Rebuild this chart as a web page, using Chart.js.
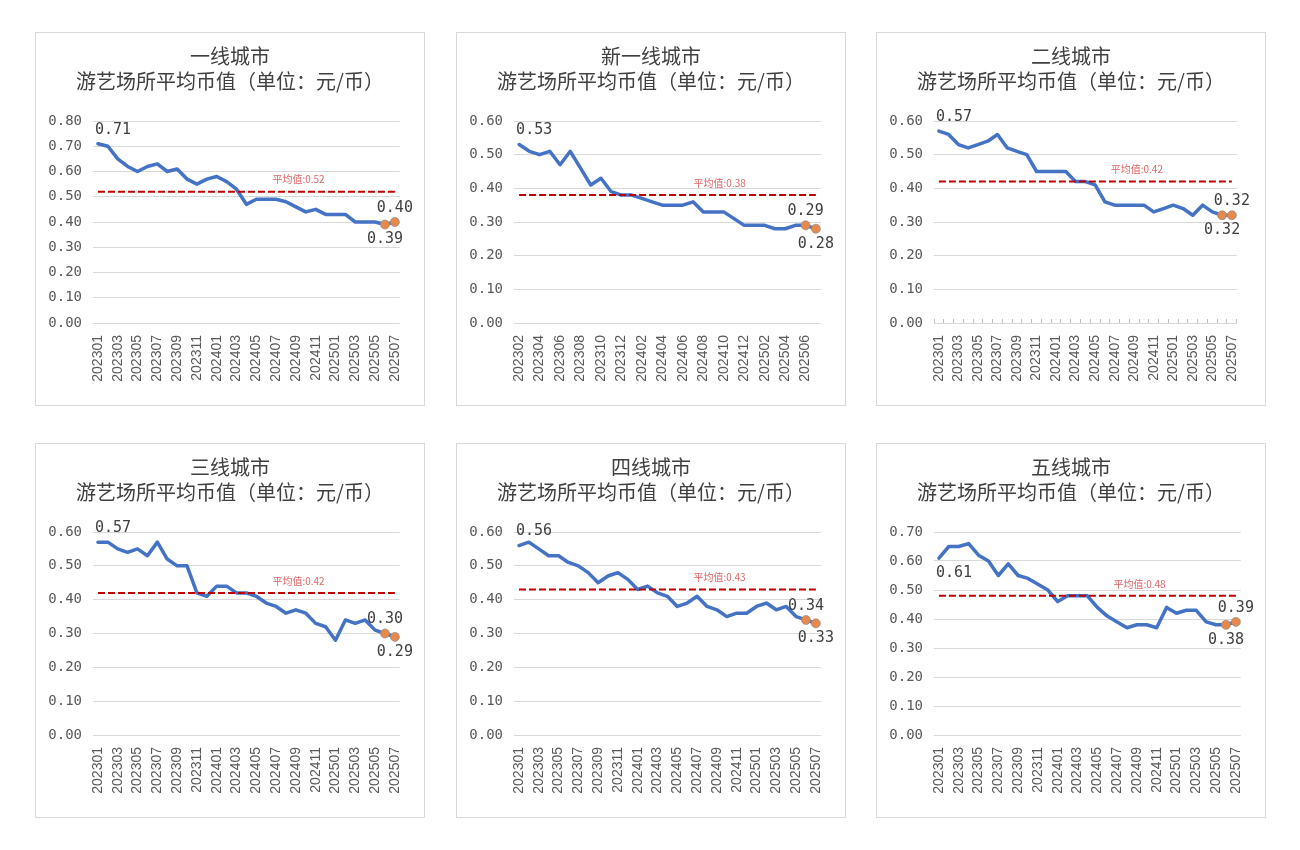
<!DOCTYPE html>
<html lang="zh-CN">
<head>
<meta charset="utf-8">
<title>游艺场所平均币值</title>
<script src="https://cdn.jsdelivr.net/npm/chart.js@4.4.1/dist/chart.umd.min.js"></script>
<style>
  html, body { margin: 0; padding: 0; background: #fff; }
  body { width: 1300px; height: 850px; position: relative; overflow: hidden; }
  .panel { position: absolute; box-sizing: border-box; border: 1px solid #d9d9d9; background: #fff; }
  .panel canvas { display: block; }
</style>
</head>
<body>
<div class="panel" style="left:35px;top:32px;width:390px;height:374px"><canvas id="chart0"></canvas></div>
<div class="panel" style="left:456px;top:32px;width:390px;height:374px"><canvas id="chart1"></canvas></div>
<div class="panel" style="left:876px;top:32px;width:390px;height:374px"><canvas id="chart2"></canvas></div>
<div class="panel" style="left:35px;top:443px;width:390px;height:375px"><canvas id="chart3"></canvas></div>
<div class="panel" style="left:456px;top:443px;width:390px;height:375px"><canvas id="chart4"></canvas></div>
<div class="panel" style="left:876px;top:443px;width:390px;height:375px"><canvas id="chart5"></canvas></div>

<script>
'use strict';

// 월 라벨 (202301 ~ 202507)
const months = [
  '202301', '202302', '202303', '202304', '202305', '202306', '202307', '202308',
  '202309', '202310', '202311', '202312', '202401', '202402', '202403', '202404',
  '202405', '202406', '202407', '202408', '202409', '202410', '202411', '202412',
  '202501', '202502', '202503', '202504', '202505', '202506', '202507'
];
// 新一线 only starts at 202302
const monthsFrom202302 = months.slice(1);

const cityNames = ['一线城市', '新一线城市', '二线城市', '三线城市', '四线城市', '五线城市'];
const subTitle = '游艺场所平均币值（单位：元/币）';

const tier1 = [0.71, 0.70, 0.65, 0.62, 0.60, 0.62, 0.63, 0.60, 0.61, 0.57,
  0.55, 0.57, 0.58, 0.56, 0.53, 0.47, 0.49, 0.49, 0.49, 0.48,
  0.46, 0.44, 0.45, 0.43, 0.43, 0.43, 0.40, 0.40, 0.40, 0.39, 0.40];
const newTier1 = [0.53, 0.51, 0.50, 0.51, 0.47, 0.51, 0.46, 0.41, 0.43, 0.39,
  0.38, 0.38, 0.37, 0.36, 0.35, 0.35, 0.35, 0.36, 0.33, 0.33,
  0.33, 0.31, 0.29, 0.29, 0.29, 0.28, 0.28, 0.29, 0.29, 0.28];
const tier2 = [0.57, 0.56, 0.53, 0.52, 0.53, 0.54, 0.56, 0.52, 0.51, 0.50,
  0.45, 0.45, 0.45, 0.45, 0.42, 0.42, 0.41, 0.36, 0.35, 0.35,
  0.35, 0.35, 0.33, 0.34, 0.35, 0.34, 0.32, 0.35, 0.33, 0.32, 0.32];
const tier3 = [0.57, 0.57, 0.55, 0.54, 0.55, 0.53, 0.57, 0.52, 0.50, 0.50,
  0.42, 0.41, 0.44, 0.44, 0.42, 0.42, 0.41, 0.39, 0.38, 0.36,
  0.37, 0.36, 0.33, 0.32, 0.28, 0.34, 0.33, 0.34, 0.31, 0.30, 0.29];
const tier4 = [0.56, 0.57, 0.55, 0.53, 0.53, 0.51, 0.50, 0.48, 0.45, 0.47,
  0.48, 0.46, 0.43, 0.44, 0.42, 0.41, 0.38, 0.39, 0.41, 0.38,
  0.37, 0.35, 0.36, 0.36, 0.38, 0.39, 0.37, 0.38, 0.35, 0.34, 0.33];
const tier5 = [0.61, 0.65, 0.65, 0.66, 0.62, 0.60, 0.55, 0.59, 0.55, 0.54,
  0.52, 0.50, 0.46, 0.48, 0.48, 0.48, 0.44, 0.41, 0.39, 0.37,
  0.38, 0.38, 0.37, 0.44, 0.42, 0.43, 0.43, 0.39, 0.38, 0.38, 0.39];

// 평균값 (차트에 표기된 값)
const averages = [0.52, 0.38, 0.42, 0.42, 0.43, 0.48];
// y축 최대값
const yMaxes = [0.8, 0.6, 0.6, 0.6, 0.6, 0.7];

const TEXT = '#404040';
const AXIS_TEXT = '#595959';
const GRID = '#d9d9d9';

// average line + data labels
const markPlugin = {
  id: 'markPlugin',
  afterDatasetsDraw(chart, args, opts) {
    const ctx = chart.ctx;
    const area = chart.chartArea;
    const xs = chart.scales.x;
    const ys = chart.scales.y;
    const pts = chart.getDatasetMeta(0).data;
    const vals = chart.data.datasets[0].data;
    const n = vals.length;

    const yAvg = ys.getPixelForValue(opts.average);
    ctx.save();
    ctx.strokeStyle = '#C00000';
    ctx.lineWidth = 2;
    ctx.setLineDash([7, 3]);
    ctx.beginPath();
    ctx.moveTo(xs.getPixelForValue(0), yAvg);
    ctx.lineTo(xs.getPixelForValue(n - 1), yAvg);
    ctx.stroke();
    ctx.setLineDash([]);

    ctx.fillStyle = '#E06666';
    ctx.font = '10px "Noto Sans CJK SC"';
    ctx.textAlign = 'center';
    ctx.textBaseline = 'middle';
    ctx.fillText('平均值:' + opts.average.toFixed(2), area.left + area.width * 0.67, yAvg - 12);

    ctx.fillStyle = TEXT;
    ctx.font = '15px "DejaVu Sans Mono"';
    // first point
    ctx.textAlign = 'left';
    const dy0 = opts.firstBelow ? 15 : -14;
    ctx.fillText(vals[0].toFixed(2), pts[0].x - 3, pts[0].y + dy0);
    // last two points, higher one on top
    ctx.textAlign = 'center';
    const prevUp = vals[n - 2] > vals[n - 1];
    ctx.fillText(vals[n - 2].toFixed(2), pts[n - 2].x, pts[n - 2].y + (prevUp ? -14 : 15));
    ctx.fillText(vals[n - 1].toFixed(2), pts[n - 1].x, pts[n - 1].y + (prevUp ? 15 : -14));
    ctx.restore();
  }
};

/**
  * @name createChart()
  * @description chart 생성
  * @param {String} canvas id
  * @param {Number} panel index
  * @param {Array} 월 labels
  * @param {Array} 평균 币值 데이터
  * @param {Object} extra (firstBelow, axisTicks)
  */
function createChart(id, idx, labels, datas, extra) {
  const n = datas.length;
  const tickLen = extra.axisTicks ? -4 : 0;
  return new Chart(document.getElementById(id), {
    type: 'line',
    data: {
      labels: labels,
      datasets: [{
        data: datas,
        borderColor: '#4472C4',
        borderWidth: 3.5,
        borderJoinStyle: 'round',
        borderCapStyle: 'round',
        tension: 0,
        pointRadius: (c) => c.dataIndex >= n - 2 ? 4.5 : 0,
        pointBackgroundColor: '#E8894B',
        pointBorderColor: 'rgba(140,140,140,0.7)',
        pointBorderWidth: 1
      }]
    },
    options: {
      responsive: true,
      maintainAspectRatio: false,
      animation: false,
      layout: {
        padding: { left: 0, right: 0, top: 0, bottom: 24 }
      },
      scales: {
        x: {
          offset: true,
          grid: {
            display: !!extra.axisTicks,
            drawOnChartArea: false,
            drawTicks: !!extra.axisTicks,
            tickLength: tickLen,
            tickColor: '#bfbfbf',
            offset: true
          },
          border: { display: false },
          ticks: {
            autoSkip: false,
            maxRotation: 90,
            minRotation: 90,
            padding: 12 - tickLen,
            color: AXIS_TEXT,
            font: { family: 'Liberation Sans', size: 14 },
            callback: function(v, i) {
              return i % 2 === 0 ? this.getLabelForValue(v) : '';
            }
          },
          afterFit: (s) => { s.height = 58; }
        },
        y: {
          min: 0,
          max: yMaxes[idx],
          grid: {
            color: GRID,
            lineWidth: 1,
            drawTicks: false
          },
          border: { display: false },
          ticks: {
            stepSize: 0.1,
            padding: 11,
            color: AXIS_TEXT,
            font: { family: 'DejaVu Sans Mono', size: 14 },
            callback: (v) => v.toFixed(2)
          },
          afterFit: (s) => { s.width = 57; }
        },
        // empty right gutter so the title stays centred on the panel
        gutter: {
          type: 'linear',
          position: 'right',
          grid: { display: false, drawTicks: false },
          border: { display: false },
          ticks: { display: false },
          afterFit: (s) => { s.width = 21; }
        }
      },
      plugins: {
        legend: { display: false },
        tooltip: { enabled: false },
        title: {
          display: true,
          text: [cityNames[idx], subTitle],
          color: TEXT,
          font: { family: 'Noto Sans CJK SC', size: 20, weight: 'normal', lineHeight: 1.25 },
          padding: { top: 11, bottom: 27 }
        },
        markPlugin: {
          average: averages[idx],
          firstBelow: !!extra.firstBelow
        }
      }
    },
    plugins: [markPlugin]
  });
}

const chartArr = [];
chartArr[0] = createChart('chart0', 0, months, tier1, {});
chartArr[1] = createChart('chart1', 1, monthsFrom202302, newTier1, {});
chartArr[2] = createChart('chart2', 2, months, tier2, { axisTicks: true });
chartArr[3] = createChart('chart3', 3, months, tier3, {});
chartArr[4] = createChart('chart4', 4, months, tier4, {});
chartArr[5] = createChart('chart5', 5, months, tier5, { firstBelow: true });
</script>
</body>
</html>
